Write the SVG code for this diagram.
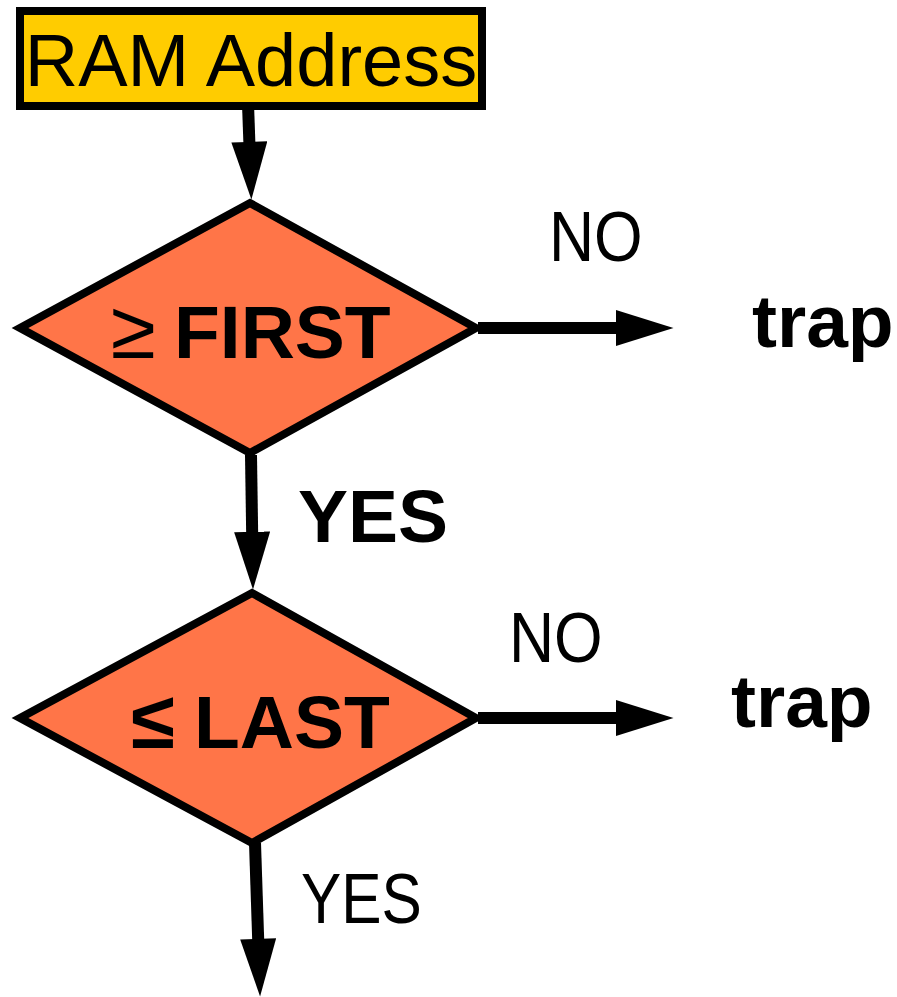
<svg xmlns="http://www.w3.org/2000/svg" width="897" height="997" viewBox="0 0 897 997">
  <defs>
    <marker id="head" markerUnits="userSpaceOnUse" markerWidth="58" markerHeight="36" viewBox="0 0 56 35" refX="4" refY="17.5" orient="auto">
      <path d="M0,0 L56,17.5 L0,35 Z" fill="#000"/>
    </marker>
    <style>
      .edge { stroke: #000; stroke-width: 12; fill: none; marker-end: url(#head); }
      .box { fill: #FFCC00; stroke: #000; stroke-width: 8; }
      .decision { fill: #FF7548; stroke: #000; stroke-width: 8; stroke-linejoin: miter; }
      .lbl { font-family: "Liberation Sans", Arial, sans-serif; fill: #000; }
      .bold { font-weight: bold; }
      .narrow { font-size: 71px; }
    </style>
  </defs>

  <!-- connectors -->
  <g id="connectors">
    <line class="edge" x1="248" y1="104" x2="249.5" y2="146"/>
    <line class="edge" x1="251" y1="455" x2="252.2" y2="536"/>
    <line class="edge" x1="478" y1="328" x2="620" y2="328"/>
    <line class="edge" x1="478" y1="718" x2="620" y2="718"/>
    <line class="edge" x1="255" y1="843" x2="258.3" y2="943"/>
  </g>

  <!-- start box -->
  <g id="ram-address">
    <rect class="box" x="20" y="11" width="462" height="95"/>
    <text class="lbl" x="251" y="86" font-size="74" text-anchor="middle">RAM Address</text>
  </g>

  <!-- first check -->
  <g id="check-first">
    <polygon class="decision" points="250,203 476,328 250,453 20,328"/>
    <text class="lbl" x="133" y="358" font-size="82" text-anchor="middle">≥</text>
    <text class="lbl bold" x="174" y="358" font-size="75">FIRST</text>
  </g>

  <!-- second check -->
  <g id="check-last">
    <polygon class="decision" points="252,593 476,718 252,843 20,718"/>
    <text class="lbl bold" x="153" y="748" font-size="80" text-anchor="middle">≤</text>
    <text class="lbl bold" x="194" y="748" font-size="75">LAST</text>
  </g>

  <!-- branch labels -->
  <g id="labels">
    <text class="lbl narrow" transform="translate(549,261) scale(0.88,1)">NO</text>
    <text class="lbl narrow" transform="translate(509,662) scale(0.88,1)">NO</text>
    <text class="lbl bold" x="298" y="542" font-size="75">YES</text>
    <text class="lbl narrow" transform="translate(301,923) scale(0.85,1)" font-size="72">YES</text>
  </g>

  <!-- trap targets -->
  <g id="trap-1">
    <text class="lbl bold" x="752" y="347" font-size="75">trap</text>
  </g>
  <g id="trap-2">
    <text class="lbl bold" x="731" y="727" font-size="75">trap</text>
  </g>
</svg>
